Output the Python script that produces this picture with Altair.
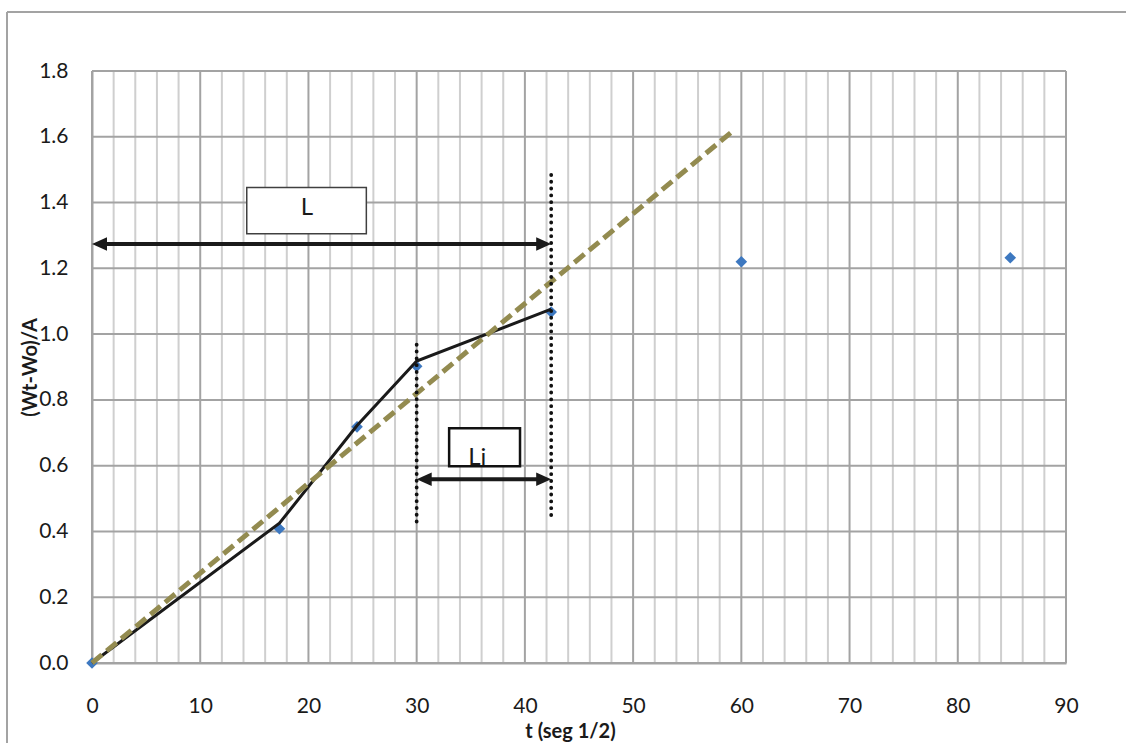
import altair as alt
import pandas as pd

# observed points: t = sqrt(seconds), (Wt-Wo)/A
t_obs = [0.0, 17.32, 24.49, 30.0, 42.43, 60.0, 84.85]
y_obs = [0.0, 0.408, 0.718, 0.902, 1.067, 1.220, 1.232]

# black polyline through the first points
t_line = [0.0, 17.32, 24.49, 30.0, 42.43]
y_line = [0.0, 0.425, 0.722, 0.918, 1.076]

# dashed straight fit
t_fit = [0.0, 59.3]
y_fit = [0.0, 1.62]

# dotted vertical markers
dot_x = [30.0, 42.43]
dot_y1 = [0.43, 0.45]
dot_y2 = [0.975, 1.485]

# arrows (label, y, x start, x end)
arr_label = ["L", "Li"]
arr_y = [1.274, 0.559]
arr_x1 = [0.0, 30.0]
arr_x2 = [42.43, 42.43]

# label boxes
box_text = ["L", "Li"]
box_x1 = [14.3, 33.0]
box_x2 = [25.35, 39.55]
box_y1 = [1.305, 0.598]
box_y2 = [1.446, 0.714]
txt_x = [19.85, 35.6]
txt_y = [1.362, 0.602]

x_labels = list(range(0, 91, 10))
x_minor = [v for v in range(0, 91, 2) if v % 10 != 0]
y_ticks = [round(0.2 * i, 1) for i in range(10)]

FONT = "Lato"
GRID_MAJOR = "#a3a3a3"
GRID_MINOR = "#cfcfcf"

xs = alt.Scale(domain=[0, 90], nice=False)
ys = alt.Scale(domain=[0, 1.8], nice=False)

obs = pd.DataFrame({"t": t_obs, "y": y_obs})
line_df = pd.DataFrame({"t": t_line, "y": y_line})
fit_df = pd.DataFrame({"t": t_fit, "y": y_fit})
dot_df = pd.DataFrame({"x": dot_x, "y1": dot_y1, "y2": dot_y2})
arr_df = pd.DataFrame({"label": arr_label, "y": arr_y, "x1": arr_x1, "x2": arr_x2})
box_df = pd.DataFrame({"text": box_text, "x1": box_x1, "x2": box_x2, "y1": box_y1,
                       "y2": box_y2, "tx": txt_x, "ty": txt_y})
minor_df = pd.DataFrame({"x": x_minor})
major_df = pd.DataFrame({"x": x_labels})
hgrid_df = pd.DataFrame({"y": y_ticks})

x_axis = alt.Axis(
    values=x_labels, labelOverlap=False, labelFlush=False,
    title="t (seg 1/2)",
    titleX=478, titleY=68, titleAlign="center", titleBaseline="middle",
    titleFont=FONT, titleFontSize=20, titleFontWeight="bold", titleColor="#1a1a1a",
    labelFont=FONT, labelFontSize=21, labelColor="#1a1a1a", labelPadding=32,
    ticks=False, grid=False, domainColor=GRID_MAJOR, domainWidth=2,
)
y_axis = alt.Axis(
    values=y_ticks, format=".1f", labelOverlap=False, labelFlush=False,
    title="(Wt-Wo)/A",
    titleX=-62, titleY=296, titleAlign="center", titleBaseline="middle", titleAngle=-90,
    titleFont=FONT, titleFontSize=20, titleFontWeight="bold", titleColor="#1a1a1a",
    labelFont=FONT, labelFontSize=21, labelColor="#1a1a1a", labelPadding=24,
    ticks=False, grid=False, domainColor=GRID_MAJOR, domainWidth=2,
)

g_minor = alt.Chart(minor_df).mark_rule(color=GRID_MINOR, strokeWidth=2).encode(
    x=alt.X("x:Q", scale=xs, axis=x_axis)
)
g_major = alt.Chart(major_df).mark_rule(color=GRID_MAJOR, strokeWidth=2).encode(
    x=alt.X("x:Q", scale=xs)
)
g_h = alt.Chart(hgrid_df).mark_rule(color=GRID_MAJOR, strokeWidth=2).encode(
    y=alt.Y("y:Q", scale=ys, axis=y_axis)
)

pts = alt.Chart(obs).mark_point(shape="diamond", filled=True, size=135,
                                color="#3d78c0", opacity=1).encode(
    x=alt.X("t:Q", scale=xs),
    y=alt.Y("y:Q", scale=ys),
)

blk = alt.Chart(line_df).mark_line(color="#1a1a1a", strokeWidth=3).encode(
    x=alt.X("t:Q", scale=xs), y=alt.Y("y:Q", scale=ys), order="t:Q"
)

fit = alt.Chart(fit_df).mark_line(color="#938b50", strokeWidth=5,
                                  strokeDash=[13, 6]).encode(
    x=alt.X("t:Q", scale=xs), y=alt.Y("y:Q", scale=ys)
)

dots = alt.Chart(dot_df).mark_rule(color="#111111", strokeWidth=3.8,
                                   strokeDash=[0.1, 6.7], strokeCap="round").encode(
    x=alt.X("x:Q", scale=xs), y=alt.Y("y1:Q", scale=ys), y2="y2:Q"
)

shaft = alt.Chart(arr_df).mark_rule(color="#1a1a1a", strokeWidth=4,
                                    xOffset=10, x2Offset=-10).encode(
    x=alt.X("x1:Q", scale=xs), x2="x2:Q", y=alt.Y("y:Q", scale=ys)
)
head_r = alt.Chart(arr_df).mark_point(shape="M0,0L-2,-0.9L-2,0.9Z", filled=True,
                                      size=225, color="#1a1a1a", opacity=1).encode(
    x=alt.X("x2:Q", scale=xs), y=alt.Y("y:Q", scale=ys)
)
head_l = alt.Chart(arr_df).mark_point(shape="M0,0L2,-0.9L2,0.9Z", filled=True,
                                      size=225, color="#1a1a1a", opacity=1).encode(
    x=alt.X("x1:Q", scale=xs), y=alt.Y("y:Q", scale=ys)
)

boxes = alt.Chart(box_df).mark_rect(fill="white").encode(
    x=alt.X("x1:Q", scale=xs), x2="x2:Q",
    y=alt.Y("y1:Q", scale=ys), y2="y2:Q",
    stroke=alt.Stroke("text:N", scale=alt.Scale(domain=["L", "Li"],
                                               range=["#404040", "#111111"]), legend=None),
    strokeWidth=alt.StrokeWidth("text:N", scale=alt.Scale(domain=["L", "Li"],
                                                          range=[1.5, 2.5]), legend=None),
)
texts = alt.Chart(box_df).mark_text(font=FONT, fontSize=24, color="#1a1a1a",
                                    baseline="alphabetic", align="center").encode(
    x=alt.X("tx:Q", scale=xs), y=alt.Y("ty:Q", scale=ys), text="text:N"
)

frame = alt.Chart(pd.DataFrame({"k": [0]})).mark_rule(color=GRID_MAJOR, strokeWidth=2).encode(
    x=alt.value(-85), x2=alt.value(1040), y=alt.value(-59)
)
frame_l = alt.Chart(pd.DataFrame({"k": [0]})).mark_rule(color=GRID_MAJOR, strokeWidth=2).encode(
    x=alt.value(-85), y=alt.value(-59), y2=alt.value(680)
)

chart = alt.layer(
    g_minor, g_major, g_h, pts, blk, fit, dots, shaft, head_r, head_l, boxes, texts,
    frame, frame_l
).properties(
    width=974, height=592,
    autosize=alt.AutoSizeParams(type="none"),
    padding={"left": 92, "top": 71, "right": 60, "bottom": 80},
).configure_view(stroke=GRID_MAJOR, strokeWidth=2).configure(background="white")

chart.save("out.html", embed_options={"renderer": "svg", "actions": False})
